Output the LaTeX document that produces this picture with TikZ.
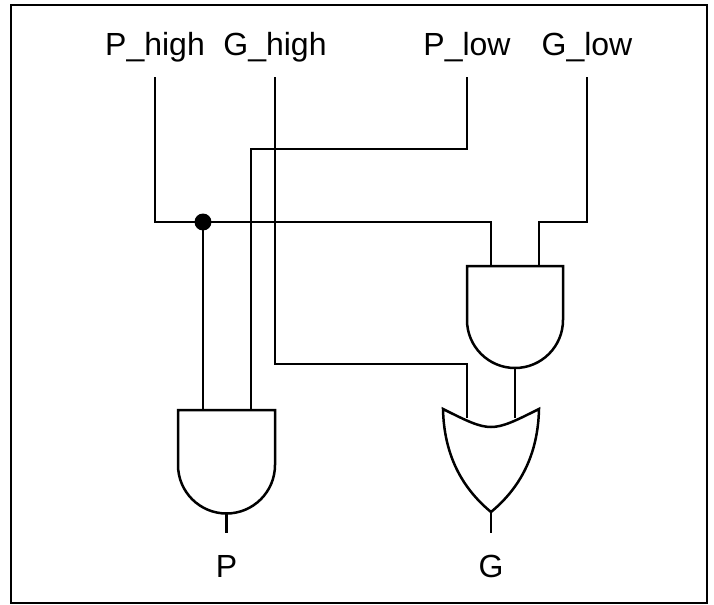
\documentclass[tikz,border=0pt]{standalone}
\usepackage{fontspec}
\setmainfont{Liberation Sans}
\begin{document}
\begin{tikzpicture}[x=0.5pt,y=-0.5pt,
  wire/.style={line width=1.25pt,line join=miter},
  gate/.style={line width=1.25pt,fill=white},
  lbl/.style={anchor=base,inner sep=0pt,font=\fontsize{16}{19}\selectfont}]
\useasboundingbox (0,0) rectangle (714,605);
\draw[line width=1.2pt] (11,5) rectangle (707,603);
% labels
\node[lbl] (tph) at (155,55) {P\_high};
\node[lbl] (tgh) at (275,55) {G\_high};
\node[lbl] (tpl) at (467,55) {P\_low};
\node[lbl] (tgl) at (587,55) {G\_low};
\node[lbl] (tp) at (226.5,577) {P};
\node[lbl] (tg) at (491,577) {G};
% wire top ends
\coordinate (ph) at (155,77);
\coordinate (gh) at (275,77);
\coordinate (pl) at (467,77);
\coordinate (gl) at (587,77);
% gate pins
\coordinate (a2a) at (491,266);
\coordinate (a2b) at (539,266);
\coordinate (a2o) at (515,368);
\coordinate (apa) at (203,410);
\coordinate (apb) at (251,410);
\coordinate (apo) at (226.5,513);
\coordinate (ora) at (467,418);
\coordinate (orb) at (515,418);
\coordinate (oro) at (491,512);
\coordinate (dot) at (203,222);
\coordinate (outp) at (226.5,533);
\coordinate (outg) at (491,533);
% gates
\draw[gate] (467,266) -- (563,266) -- (563,320) arc[start angle=0,end angle=180,radius=48] -- cycle;
\draw[gate] (178,410) -- (275,410) -- (275,465) arc[start angle=0,end angle=180,radius=48.5] -- cycle;
\draw[gate] (443,409) .. controls (491,433) .. (539,409)
  .. controls (538,455) and (520,488) .. (491,512)
  .. controls (462,488) and (444,455) .. (443,409) -- cycle;
% wires
\draw[wire] (ph) |- (dot) -| (a2a);
\draw[wire] (dot) -- (apa);
\fill (dot) circle[radius=8.5];
\draw[wire] (pl) -- ++(0,72) -| (apb);
\draw[wire] (gh) -- ++(0,287) -| (ora);
\draw[wire] (gl) -- ++(0,145) -| (a2b);
\draw[wire] (a2o) -- (orb);
\draw[wire] (apo) -- (outp);
\draw[wire] (oro) -- (outg);
\end{tikzpicture}
\end{document}
